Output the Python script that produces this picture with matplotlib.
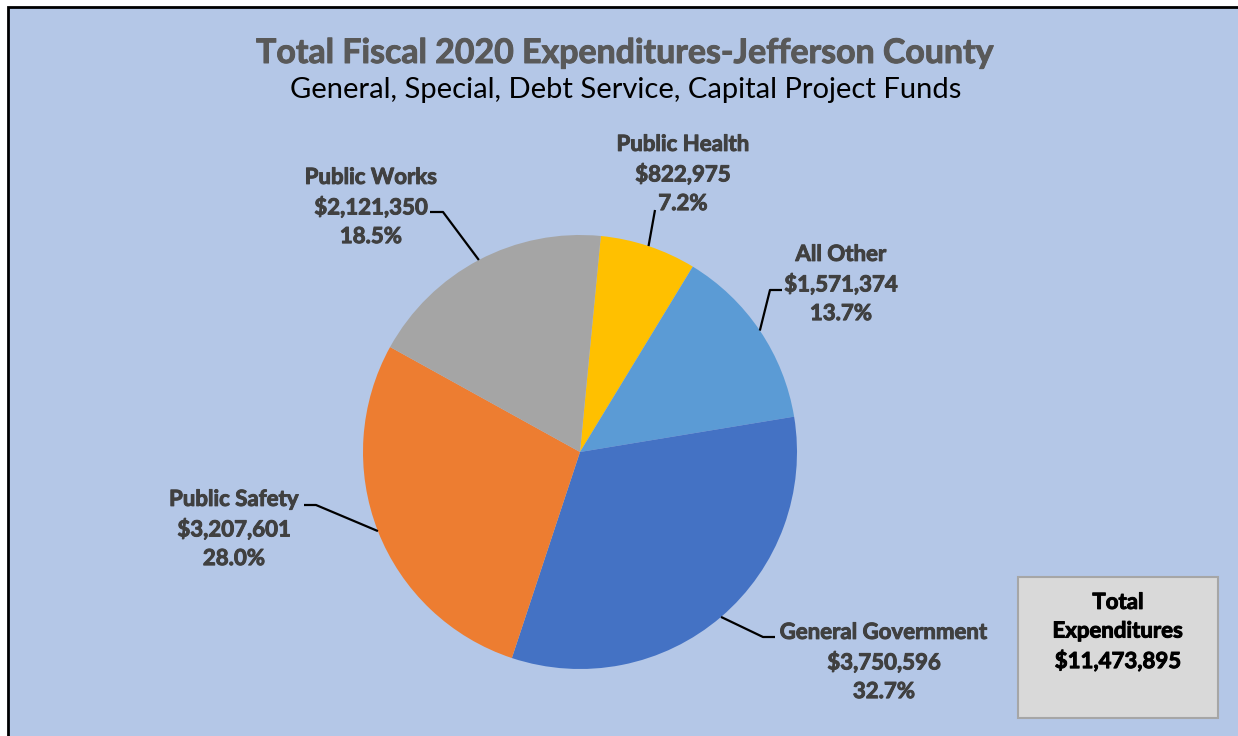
import numpy as np
import matplotlib
matplotlib.use("Agg")
import matplotlib.pyplot as plt
import matplotlib.patheffects as pe
from matplotlib.patches import Rectangle

plt.rcParams["font.family"] = ["Lato", "DejaVu Sans"]

# data, in pie order (clockwise from just right of 12 o'clock)
categories = ["Public Health", "All Other", "General Government",
              "Public Safety", "Public Works"]
amounts = [822975, 1571374, 3750596, 3207601, 2121350]
percents = ["7.2%", "13.7%", "32.7%", "28.0%", "18.5%"]
colors = ["#FFC000", "#5B9BD5", "#4472C4", "#ED7D31", "#A5A5A5"]
total_label = "$11,473,895"

title = "Total Fiscal 2020 Expenditures-Jefferson County"
subtitle = "General, Special, Debt Service, Capital Project Funds"

W, H = 1238, 736
BG = "#B4C7E7"
TXT = "#404040"

# label layout (pixel coords from top-left): text centre, leader elbow, leader end
label_pos = [(683, 174), (841, 284), (884, 662), (234, 529), (371, 207)]
elbows = [(655, 210), (770, 290), (763, 637), (316, 505), (443, 212)]
tails = [None, (782, 290), (775, 637), (304, 505), (430, 212)]

fig = plt.figure(figsize=(W / 100, H / 100), dpi=100, facecolor="white")
ax = fig.add_axes([0, 0, 1, 1])


def fy(y):
    return H - y


def heavy(color):
    # Lato bold is lighter than the original's bold face; thicken slightly
    return [pe.withStroke(linewidth=0.7, foreground=color)]


# chart area with black border on top/left
ax.add_patch(Rectangle((8, -10), W + 10, fy(7) + 10, facecolor=BG,
                       edgecolor="black", lw=2, zorder=0))

cx, cy, r = 580, fy(452), 217
wedges, _ = ax.pie(amounts, colors=colors, startangle=84.5, counterclock=False,
                   center=(cx, cy), radius=r, frame=True,
                   wedgeprops={"linewidth": 0})
ax.set_xlim(0, W)
ax.set_ylim(0, H)
ax.set_aspect("auto")
ax.axis("off")

for w, name, amt, pct, (lx, ly), el, tl in zip(wedges, categories, amounts,
                                               percents, label_pos, elbows, tails):
    th = np.deg2rad((w.theta1 + w.theta2) / 2)
    ax_, ay_ = cx + r * np.cos(th), cy + r * np.sin(th)
    xs = [ax_, el[0]]
    ys = [ay_, fy(el[1])]
    if tl is not None:
        xs.append(tl[0])
        ys.append(fy(tl[1]))
    ax.plot(xs, ys, color="black", lw=1.6, solid_capstyle="butt", zorder=3)
    ax.text(lx, fy(ly), f"{name}\n${amt:,}\n{pct}", ha="center", va="center",
            fontsize=16, fontweight="bold", color=TXT, linespacing=1.45,
            path_effects=heavy(TXT))

ax.text(625, fy(53), title, ha="center", va="center", fontsize=24.4,
        fontweight="bold", color="#595959", path_effects=heavy("#595959"))
ax.text(626, fy(90), subtitle, ha="center", va="center", fontsize=21,
        color="black")

# total box
ax.add_patch(Rectangle((1018, fy(718)), 200, 141, facecolor="#D9D9D9",
                       edgecolor="#A6A6A6", lw=1.5, zorder=2))
ax.text(1118, fy(632), "Total\nExpenditures\n" + total_label, ha="center",
        va="center", fontsize=16, fontweight="bold", color="black",
        linespacing=1.45, zorder=3, path_effects=heavy("black"))

fig.savefig("out.png", dpi=100, facecolor="white")
